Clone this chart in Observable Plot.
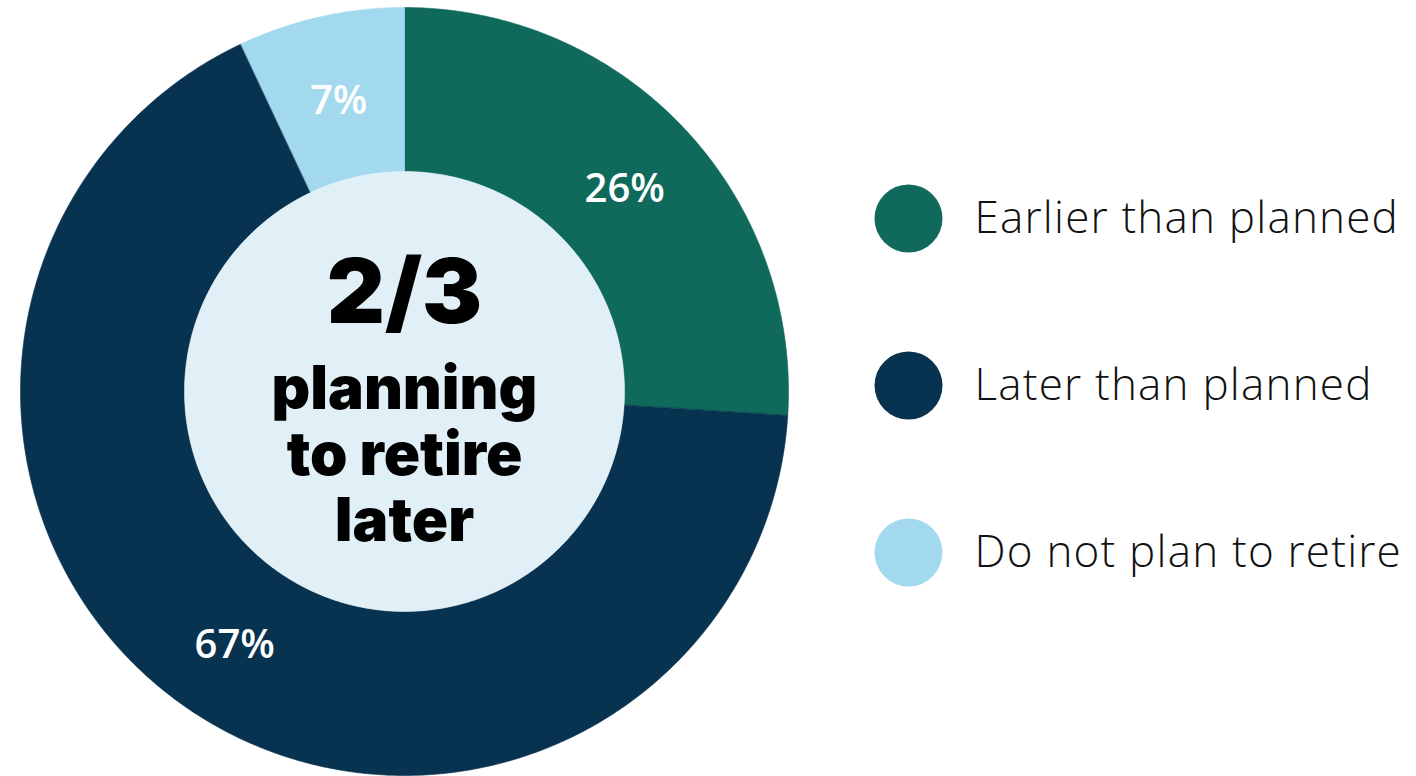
<!DOCTYPE html>
<html>
<head>
<meta charset="utf-8">
<script src="https://cdn.jsdelivr.net/npm/d3@7"></script>
<script src="https://cdn.jsdelivr.net/npm/@observablehq/plot@0.6"></script>
<style>
  html, body { margin: 0; padding: 0; background: #ffffff; }
  #wrap { display: flex; flex-direction: row; align-items: flex-start; width: 1416px; height: 776px; overflow: hidden; }
  .legend-chart text { letter-spacing: 1.2px; }
</style>
</head>
<body>
<div id="wrap"></div>
<script>
// ---- data ----
const categories = ["Earlier than planned", "Later than planned", "Do not plan to retire"];
const values = [26, 67, 7];
const valueLabels = ["26%", "67%", "7%"];
const colors = ["#106a5b", "#083350", "#a3d9ee"];
const holeColor = "#e1f0f7";
const centerHeadline = "2/3";
const centerLines = ["planning", "to retire", "later"];
const innerRatio = 220 / 384;

// ---- build wedge polygons (unit circle, angle clockwise from top) ----
const total = d3.sum(values);
const wedgePoints = [];
const labelPoints = [];
let acc = 0;
categories.forEach((cat, i) => {
  const a0 = (acc / total) * 2 * Math.PI;
  acc += values[i];
  const a1 = (acc / total) * 2 * Math.PI;
  const n = Math.max(8, Math.ceil((a1 - a0) / (Math.PI / 360)));
  for (let k = 0; k <= n; k++) {
    const a = a0 + (a1 - a0) * k / n;
    wedgePoints.push({cat, x: Math.sin(a), y: Math.cos(a)});
  }
  for (let k = n; k >= 0; k--) {
    const a = a0 + (a1 - a0) * k / n;
    wedgePoints.push({cat, x: innerRatio * Math.sin(a), y: innerRatio * Math.cos(a)});
  }
  const am = (a0 + a1) / 2;
  const rm = (1 + innerRatio) / 2;
  labelPoints.push({cat, label: valueLabels[i], x: rm * Math.sin(am), y: rm * Math.cos(am)});
});
const holePoints = d3.range(0, 721).map(k => {
  const a = k / 720 * 2 * Math.PI;
  return {x: innerRatio * Math.sin(a), y: innerRatio * Math.cos(a)};
});

const donut = Plot.plot({
  width: 820,
  height: 776,
  margin: 0,
  style: {background: "transparent", overflow: "visible"},
  x: {domain: [-1, 1], range: [20, 788], axis: null},
  y: {domain: [-1, 1], range: [775, 7], axis: null},
  color: {domain: categories, range: colors},
  marks: [
    Plot.line(wedgePoints, {x: "x", y: "y", z: "cat", fill: "cat", stroke: "cat", strokeWidth: 0.6, curve: "linear-closed"}),
    Plot.line(holePoints, {x: "x", y: "y", fill: holeColor, stroke: holeColor, strokeWidth: 0.5, curve: "linear-closed"}),
    Plot.text(labelPoints, {x: "x", y: "y", text: "label", fill: "white", fontSize: 40, fontWeight: 600, fontFamily: "Open Sans", dy: 4}),
    Plot.text([centerHeadline], {x: () => 0, y: () => 0, text: d => d, dy: -97, fontSize: 90, fontWeight: 900, fontFamily: "Inter", fill: "#000"}),
    Plot.text([centerLines.join("\n")], {x: () => 0, y: () => 0, text: d => d, dy: 62, lineHeight: 1.1, fontSize: 60, fontWeight: 900, fontFamily: "Inter", fill: "#000"})
  ]
});

const legend = Plot.plot({
  width: 596,
  height: 776,
  margin: 0,
  className: "legend-chart",
  style: {background: "transparent", overflow: "visible"},
  x: {domain: [0, 1], axis: null},
  y: {type: "point", domain: categories, range: [218, 552], padding: 0, axis: null},
  color: {domain: categories, range: colors},
  marks: [
    Plot.dot(categories, {y: d => d, fill: d => d, r: 34, frameAnchor: "left", dx: 88}),
    Plot.text(categories, {y: d => d, text: d => d, frameAnchor: "left", dx: 154, textAnchor: "start", fontSize: 44, fontWeight: 300, fontFamily: "Open Sans", fill: "#111"})
  ]
});

const wrap = document.getElementById("wrap");
wrap.appendChild(donut);
wrap.appendChild(legend);
</script>
</body>
</html>
